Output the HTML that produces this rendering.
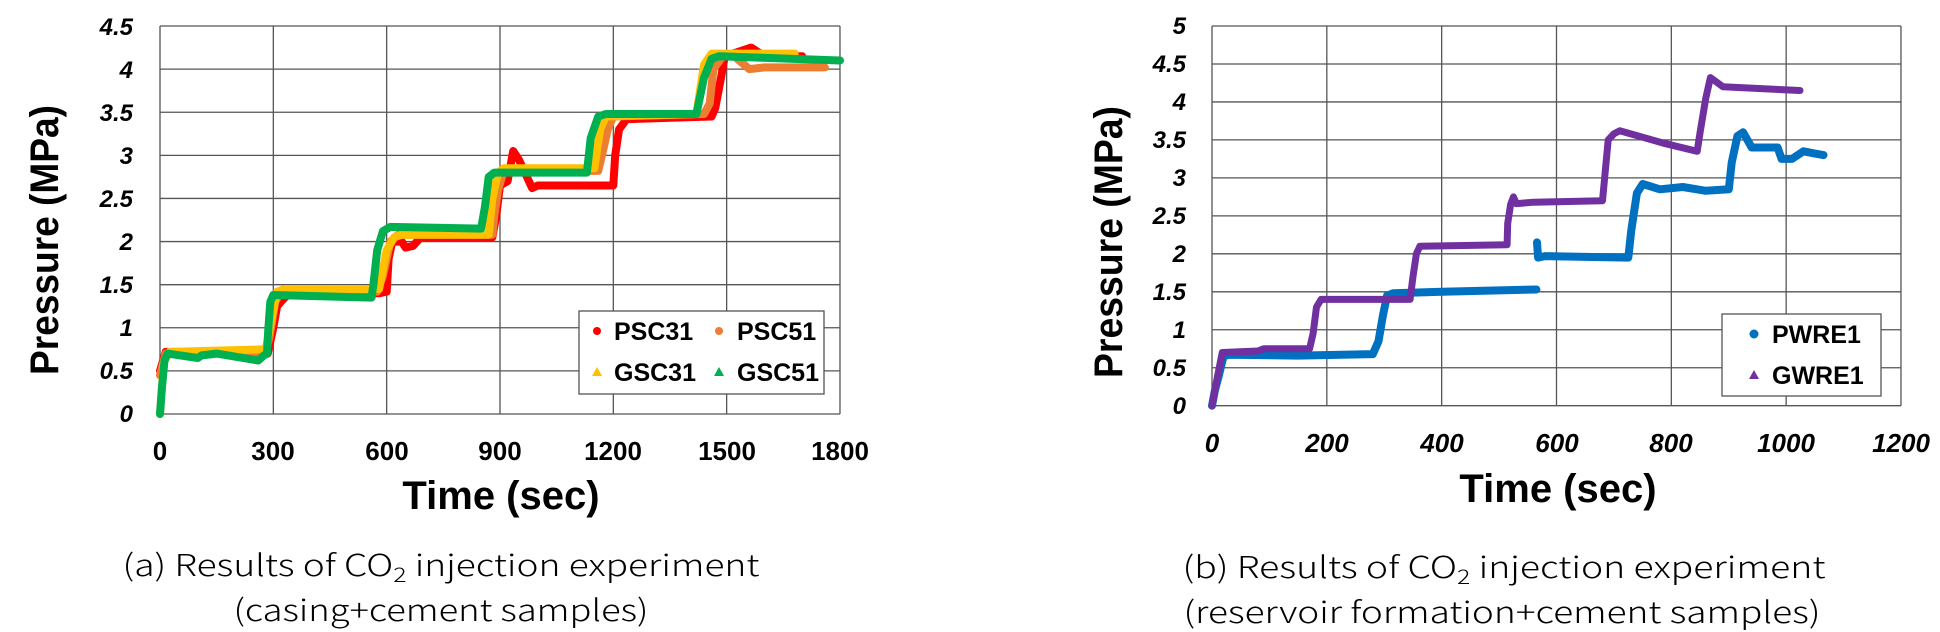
<!DOCTYPE html>
<html><head><meta charset="utf-8"><style>
html,body{margin:0;padding:0;background:#fff;}
svg{display:block;}
.tk{font-family:"Liberation Sans",sans-serif;font-weight:bold;font-size:24px;fill:#000;}
.ti{font-style:italic;}
.ax{font-family:"Liberation Sans",sans-serif;font-weight:bold;font-size:40px;fill:#000;}
.cap{font-family:"Noto Sans CJK KR","Liberation Sans",sans-serif;font-weight:300;font-size:30px;fill:#000;}
.lg{font-family:"Liberation Sans",sans-serif;font-weight:bold;font-size:25px;fill:#000;}
</style></head><body>
<svg id="s" width="1940" height="632" viewBox="0 0 1940 632" xmlns="http://www.w3.org/2000/svg">
<rect width="1940" height="632" fill="#fff"/>
<g id="grid" stroke="#555" stroke-width="1.3" fill="none"></g>
<g id="data" fill="none" stroke-linejoin="round" stroke-linecap="round"></g>

<g class="tk ti" text-anchor="end">
<text x="133" y="35">4.5</text><text x="133" y="78">4</text><text x="133" y="121">3.5</text>
<text x="133" y="164">3</text><text x="133" y="207">2.5</text><text x="133" y="250">2</text>
<text x="133" y="293">1.5</text><text x="133" y="336">1</text><text x="133" y="379">0.5</text>
<text x="133" y="422">0</text>
</g>
<g class="tk" text-anchor="middle" style="font-size:26px">
<text x="160" y="460">0</text><text x="273" y="460">300</text><text x="387" y="460">600</text>
<text x="500" y="460">900</text><text x="613" y="460">1200</text><text x="727" y="460">1500</text>
<text x="840" y="460">1800</text>
</g>
<text class="ax" x="501" y="509" text-anchor="middle">Time (sec)</text>
<text class="ax" transform="translate(58,240) rotate(-90)" text-anchor="middle" textLength="270" lengthAdjust="spacingAndGlyphs">Pressure (MPa)</text>

<g class="tk ti" text-anchor="end">
<text x="1186" y="34">5</text><text x="1186" y="72">4.5</text><text x="1186" y="110">4</text>
<text x="1186" y="148">3.5</text><text x="1186" y="186">3</text><text x="1186" y="224">2.5</text>
<text x="1186" y="262">2</text><text x="1186" y="300">1.5</text><text x="1186" y="338">1</text>
<text x="1186" y="376">0.5</text><text x="1186" y="414">0</text>
</g>
<g class="tk ti" text-anchor="middle" style="font-size:26px">
<text x="1212" y="452">0</text><text x="1327" y="452">200</text><text x="1442" y="452">400</text>
<text x="1557" y="452">600</text><text x="1671" y="452">800</text><text x="1786" y="452">1000</text>
<text x="1901" y="452">1200</text>
</g>
<text class="ax" x="1558" y="502" text-anchor="middle">Time (sec)</text>
<text class="ax" transform="translate(1122,242) rotate(-90)" text-anchor="middle" textLength="272" lengthAdjust="spacingAndGlyphs">Pressure (MPa)</text>

<rect x="579" y="311" width="245" height="83" fill="#fff" stroke="#555" stroke-width="1.3"/>
<circle cx="597" cy="331" r="4" fill="#ff0000"/><text class="lg" x="614" y="340">PSC31</text>
<circle cx="719" cy="331" r="4" fill="#ed7d31"/><text class="lg" x="737" y="340">PSC51</text>
<polygon points="597,367 592,376 602,376" fill="#ffc000"/><text class="lg" x="614" y="381">GSC31</text>
<polygon points="719,367 714,376 724,376" fill="#00b050"/><text class="lg" x="737" y="381">GSC51</text>

<rect x="1722" y="314" width="159" height="82" fill="#fff" stroke="#555" stroke-width="1.3"/>
<circle cx="1754" cy="334" r="4.5" fill="#0070c0"/><text class="lg" x="1772" y="343">PWRE1</text>
<polygon points="1754,370 1749,379 1759,379" fill="#7030a0"/><text class="lg" x="1772" y="384">GWRE1</text>

<text class="cap" x="441" y="576" text-anchor="middle" textLength="637" lengthAdjust="spacingAndGlyphs">(a) Results of CO<tspan font-size="20" dy="6">2</tspan><tspan dy="-6"> injection experiment</tspan></text>
<text class="cap" x="441" y="621" text-anchor="middle" textLength="415" lengthAdjust="spacingAndGlyphs">(casing+cement samples)</text>
<text class="cap" x="1504" y="578" text-anchor="middle" textLength="643" lengthAdjust="spacingAndGlyphs">(b) Results of CO<tspan font-size="20" dy="6">2</tspan><tspan dy="-6"> injection experiment</tspan></text>
<text class="cap" x="1502" y="623" text-anchor="middle" textLength="637" lengthAdjust="spacingAndGlyphs">(reservoir formation+cement samples)</text>
</svg>
<script>
var NS="http://www.w3.org/2000/svg";
var g=document.getElementById('grid'),d=document.getElementById('data');
function ln(x1,y1,x2,y2){var l=document.createElementNS(NS,'line');l.setAttribute('x1',x1);l.setAttribute('y1',y1);l.setAttribute('x2',x2);l.setAttribute('y2',y2);g.appendChild(l);}
for(var i=0;i<=6;i++){var x=160+i*113.33;ln(x,26,x,414);}
for(var j=0;j<=9;j++){var y=414-j*43.11;ln(160,y,840,y);}
for(var i=0;i<=6;i++){var x=1212+i*114.83;ln(x,26,x,405.7);}
for(var j=0;j<=10;j++){var y=405.7-j*37.97;ln(1212,y,1901,y);}
function LX(t){return 160+t*0.37778;}function LY(p){return 414-p*86.22;}
function RX(t){return 1212+t*0.5742;}function RY(p){return 405.7-p*75.94;}
function pl(pts,fx,fy,col,w){var p=document.createElementNS(NS,'polyline');p.setAttribute('points',pts.map(function(a){return fx(a[0]).toFixed(1)+','+fy(a[1]).toFixed(1);}).join(' '));p.setAttribute('stroke',col);p.setAttribute('stroke-width',w);d.appendChild(p);}
var red=[[0,0.5],[15,0.72],[285,0.7],[300,1.0],[310,1.25],[330,1.35],[345,1.4],[580,1.4],[600,1.42],[605,1.8],[615,2.0],[640,2.0],[650,1.93],[670,1.95],[690,2.05],[880,2.05],[890,2.3],[900,2.65],[920,2.7],[935,3.05],[950,2.95],[985,2.62],[1000,2.65],[1200,2.65],[1205,3.0],[1215,3.3],[1235,3.42],[1460,3.45],[1470,3.55],[1485,3.9],[1495,4.15],[1530,4.2],[1565,4.25],[1600,4.15],[1700,4.15]];
var org=[[0,0.45],[15,0.7],[280,0.72],[290,0.9],[305,1.3],[320,1.42],[575,1.42],[590,1.6],[610,2.0],[630,2.08],[880,2.08],[885,2.3],[895,2.6],[910,2.82],[1160,2.82],[1170,3.0],[1185,3.3],[1200,3.45],[1440,3.48],[1455,3.6],[1465,4.0],[1490,4.15],[1520,4.15],[1560,4.0],[1600,4.02],[1760,4.02]];
var yel=[[0,0],[10,0.6],[25,0.72],[280,0.75],[295,1.1],[310,1.42],[330,1.45],[580,1.45],[600,1.9],[620,2.05],[640,2.08],[870,2.08],[880,2.5],[895,2.8],[910,2.85],[1150,2.85],[1165,3.3],[1180,3.45],[1420,3.48],[1440,4.05],[1460,4.18],[1680,4.18]];
var grn=[[0,0],[5,0.3],[12,0.62],[20,0.7],[100,0.65],[110,0.68],[150,0.7],[260,0.62],[275,0.68],[283,0.7],[287,1.0],[292,1.3],[300,1.38],[560,1.35],[565,1.5],[575,1.9],[590,2.12],[610,2.17],[850,2.15],[860,2.4],[870,2.75],[885,2.8],[1130,2.8],[1140,3.2],[1160,3.45],[1180,3.48],[1420,3.48],[1440,3.9],[1460,4.12],[1480,4.15],[1800,4.1]];
pl(red,LX,LY,'#ff0000',8);pl(org,LX,LY,'#ed7d31',8);pl(yel,LX,LY,'#ffc000',8);pl(grn,LX,LY,'#00b050',8);
var b1=[[0,0],[5,0.2],[12,0.4],[20,0.65],[30,0.67],[150,0.66],[280,0.68],[290,0.85],[298,1.2],[305,1.45],[315,1.48],[400,1.5],[565,1.53]];
var b2=[[566,2.15],[568,1.95],[580,1.97],[725,1.95],[730,2.3],[740,2.8],[750,2.92],[780,2.85],[820,2.88],[860,2.83],[900,2.85],[905,3.2],[915,3.55],[925,3.6],[940,3.4],[985,3.4],[992,3.25],[1010,3.25],[1030,3.35],[1050,3.32],[1065,3.3]];
var pu=[[0,0],[10,0.4],[18,0.7],[80,0.72],[90,0.75],[170,0.75],[176,0.95],[182,1.3],[190,1.4],[345,1.4],[350,1.7],[356,2.0],[362,2.1],[514,2.12],[515,2.4],[520,2.65],[525,2.75],[530,2.66],[560,2.68],[680,2.7],[690,3.5],[700,3.58],[710,3.62],[790,3.45],[845,3.35],[850,3.6],[860,4.05],[868,4.32],[890,4.2],[1024,4.15]];
pl(b1,RX,RY,'#0070c0',8);pl(b2,RX,RY,'#0070c0',8);pl(pu,RX,RY,'#7030a0',7);
</script>
</body></html>
